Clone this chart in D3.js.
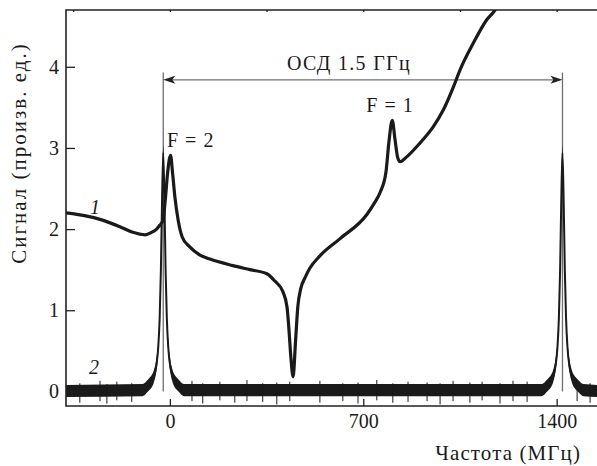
<!DOCTYPE html>
<html lang="ru">
	<head>
		<meta charset="utf-8">
		<title>Сигнал</title>
		<script src="https://d3js.org/d3.v7.min.js"></script>
		<style>
			body {
				margin: 0;
				background: #ffffff;
			}
			text {
				font-family: "Liberation Serif", "Times New Roman", serif;
				fill: #1a1a1a;
			}
			.frame {
				stroke: #222;
				stroke-width: 1.6;
				fill: none;
			}
			.tick line {
				stroke: #222;
				stroke-width: 1.3;
			}
			.trace {
				fill: none;
				stroke: #1a1a1a;
				stroke-linejoin: round;
			}
			.marker {
				stroke: #6e6e6e;
				stroke-width: 1.3;
			}
		</style>
	</head>
	<body>
		<div id="chart"></div>
		<script type="text/javascript">
			// settings for window
			var w = 597;
			var h = 466;
			var padL = 66, padR = 597, padT = 10, padB = 406;

			// trace 1: absorption signal [frequency MHz, signal]
			var trace1 = [[-376,2.20],[-300,2.16],[-253,2.12],[-181,2.03],[-134,1.96],[-90,1.93],[-72,1.95],[-48,2.00],[-36,2.05],[-25,2.11],
				[-15.6,2.40],[-8.3,2.69],[2.5,2.91],[9.8,2.69],[18,2.40],[30,2.11],[45,1.90],[72,1.78],[109,1.68],[145,1.63],[228,1.55],
				[290,1.50],[351,1.45],[380,1.36],[409,1.23],[424,1.04],[431,0.76],[438,0.42],[446,0.18],[455,0.63],[463,1.04],[474,1.27],
				[489,1.40],[507,1.52],[543,1.67],[615,1.88],[713,2.18],[740,2.32],[762,2.46],[782,2.70],[793,3.08],[805,3.34],[815,3.10],
				[824,2.89],[833,2.83],[857,2.89],[905,3.06],[953,3.26],[990,3.47],[1026,3.75],[1050,3.96],[1098,4.29],[1147,4.58],[1177,4.70],[1215,4.95]];

			// trace 2: reference signal [frequency MHz, signal]
			var trace2 = [[-376,0],[-100,0.01],[-76,0.08],[-68,0.11],[-58,0.18],[-48.5,0.33],[-42,0.55],[-37,0.9],[-32.5,1.5],[-28.6,2.3],
				[-24,2.94],[-19.4,2.3],[-15.5,1.5],[-11,0.9],[-6,0.55],[0.5,0.33],[10,0.18],[20,0.11],[28,0.08],[52,0.01],
				[1345,0.01],[1369,0.08],[1377,0.11],[1387,0.18],[1396.5,0.33],[1403,0.55],[1408,0.9],[1412.5,1.5],[1416.4,2.3],
				[1421,2.94],[1425.6,2.3],[1429.5,1.5],[1434,0.9],[1439,0.55],[1445.5,0.33],[1455,0.18],[1465,0.11],[1473,0.08],[1497,0.01],[1546,0]];
			// noise band of trace 2, below / above the signal
			var noiseLo = -0.07, noiseHi = 0.08;
			// single noise spikes [frequency MHz, low, high]
			var spikes = [[-326,-0.14,0.10],[-253,-0.12,0.13],[-228,-0.15,0.09],[-192,-0.11,0.12],[-138,-0.13,0.10],[80,-0.12,0.13],
				[119,-0.15,0.10],[181,-0.11,0.12],[235,-0.14,0.09],[279,-0.12,0.14],[336,-0.13,0.10],[387,-0.16,0.11],[434,-0.12,0.12],
				[543,-0.14,0.13],[626,-0.12,0.10],[681,-0.15,0.11],[749,-0.11,0.14],[807,-0.14,0.10],[862,-0.13,0.12],[931,-0.12,0.11],
				[978,-0.16,0.10],[1025,-0.12,0.13],[1086,-0.14,0.11],[1130,-0.11,0.12],[1195,-0.15,0.10],[1242,-0.12,0.13],[1293,-0.13,0.12],
				[1474,-0.12,0.11],[1521,-0.14,0.10]];

			var xTicksBottom = [0, 700, 1400];
			var xTicksTop = [-350, 0, 350, 700, 1050, 1400];
			var yTicks = [0, 1, 2, 3, 4];
			var span = [-24, 1421];

			var svg = d3.select("div[id=chart]").append("svg").attr("width",w).attr("height",h);
			var xScale = d3.scaleLinear().domain([-376,1546]).range([padL,padR]);
			var yScale = d3.scaleLinear().domain([-0.18,4.70]).range([padB,padT]);

			svg.append("clipPath").attr("id","clip").append("rect")
				.attr("x",padL).attr("y",padT).attr("width",padR-padL).attr("height",padB-padT);
			var plot = svg.append("g").attr("clip-path","url(#clip)");

			// marker lines for the splitting
			span.forEach(function(f) {
				plot.append("line").attr("class","marker")
					.attr("x1",xScale(f)).attr("x2",xScale(f))
					.attr("y1",yScale(3.93)).attr("y2",yScale(0));
			});
			plot.append("line").attr("class","marker")
				.attr("x1",xScale(span[0])+6).attr("x2",xScale(span[1])-6)
				.attr("y1",yScale(3.84)).attr("y2",yScale(3.84));
			var ay = yScale(3.84);
			var ax0 = xScale(span[0]), ax1 = xScale(span[1]);
			plot.append("path").attr("fill","#222")
				.attr("d","M"+ax0+","+ay+"L"+(ax0+12)+","+(ay-4)+"L"+(ax0+9)+","+ay+"L"+(ax0+12)+","+(ay+4)+"Z");
			plot.append("path").attr("fill","#222")
				.attr("d","M"+ax1+","+ay+"L"+(ax1-12)+","+(ay-4)+"L"+(ax1-9)+","+ay+"L"+(ax1-12)+","+(ay+4)+"Z");

			// trace 2 with noise
			var band = d3.area().curve(d3.curveMonotoneX)
				.x(function(d) { return xScale(d[0]); })
				.y0(function(d) { return yScale(d[1]+noiseLo); })
				.y1(function(d) { return yScale(d[1]+noiseHi); });
			plot.append("path").datum(trace2).attr("d",band).attr("fill","#1a1a1a");
			plot.selectAll(".spike").data(spikes).enter().append("line").attr("class","spike")
				.attr("x1",function(d) { return xScale(d[0]); }).attr("x2",function(d) { return xScale(d[0]); })
				.attr("y1",function(d) { return yScale(d[1]); }).attr("y2",function(d) { return yScale(d[2]); })
				.attr("stroke","#1a1a1a").attr("stroke-width",1);
			var line = d3.line().curve(d3.curveMonotoneX)
				.x(function(d) { return xScale(d[0]); })
				.y(function(d) { return yScale(d[1]); });
			plot.append("path").datum(trace2).attr("class","trace").attr("d",line).attr("stroke-width",2);

			// trace 1
			plot.append("path").datum(trace1).attr("class","trace").attr("d",line).attr("stroke-width",3.2);

			// frame
			svg.append("path").attr("class","frame")
				.attr("d","M"+padR+","+padT+"H"+padL+"V"+padB+"H"+padR);

			// axis
			var yAxis = d3.axisLeft(yScale).tickValues(yTicks).tickSize(-9).tickPadding(7).tickFormat(d3.format("d"));
			var xAxis = d3.axisBottom(xScale).tickValues(xTicksBottom).tickSize(-7).tickPadding(8).tickFormat(d3.format("d"));
			var xAxisTop = d3.axisTop(xScale).tickValues(xTicksTop).tickSize(-2).tickFormat("");
			svg.append("g").attr("transform","translate("+padL+",0)").call(yAxis);
			svg.append("g").attr("transform","translate(0,"+padB+")").call(xAxis);
			svg.append("g").attr("transform","translate(0,"+padT+")").call(xAxisTop);
			svg.selectAll(".domain").remove();
			svg.selectAll(".tick text").style("font-size","20px").style("font-family","Liberation Serif").attr("fill","#1a1a1a");

			// labels
			svg.append("text").attr("transform","translate(19,153) rotate(-90)")
				.attr("text-anchor","middle").attr("dy","0.35em").style("font-size","21px").style("letter-spacing","2px")
				.text("Сигнал (произв. ед.)");
			svg.append("text").attr("x",581).attr("y",460).attr("text-anchor","end").style("font-size","21px").style("letter-spacing","1.1px")
				.text("Частота (МГц)");
			svg.append("text").attr("x",349).attr("y",70).attr("text-anchor","middle").style("font-size","20px").style("letter-spacing","1.3px")
				.text("ОСД 1.5 ГГц");
			svg.append("text").attr("x",167).attr("y",147).style("font-size","20px").style("letter-spacing","1px").text("F = 2");
			svg.append("text").attr("x",390).attr("y",112).attr("text-anchor","middle").style("font-size","20px").style("letter-spacing","1px").text("F = 1");
			svg.append("text").attr("x",95).attr("y",214).attr("text-anchor","middle").style("font-size","20px").style("font-style","italic").text("1");
			svg.append("text").attr("x",94).attr("y",374).attr("text-anchor","middle").style("font-size","20px").style("font-style","italic").text("2");
		</script>
	</body>
</html>
